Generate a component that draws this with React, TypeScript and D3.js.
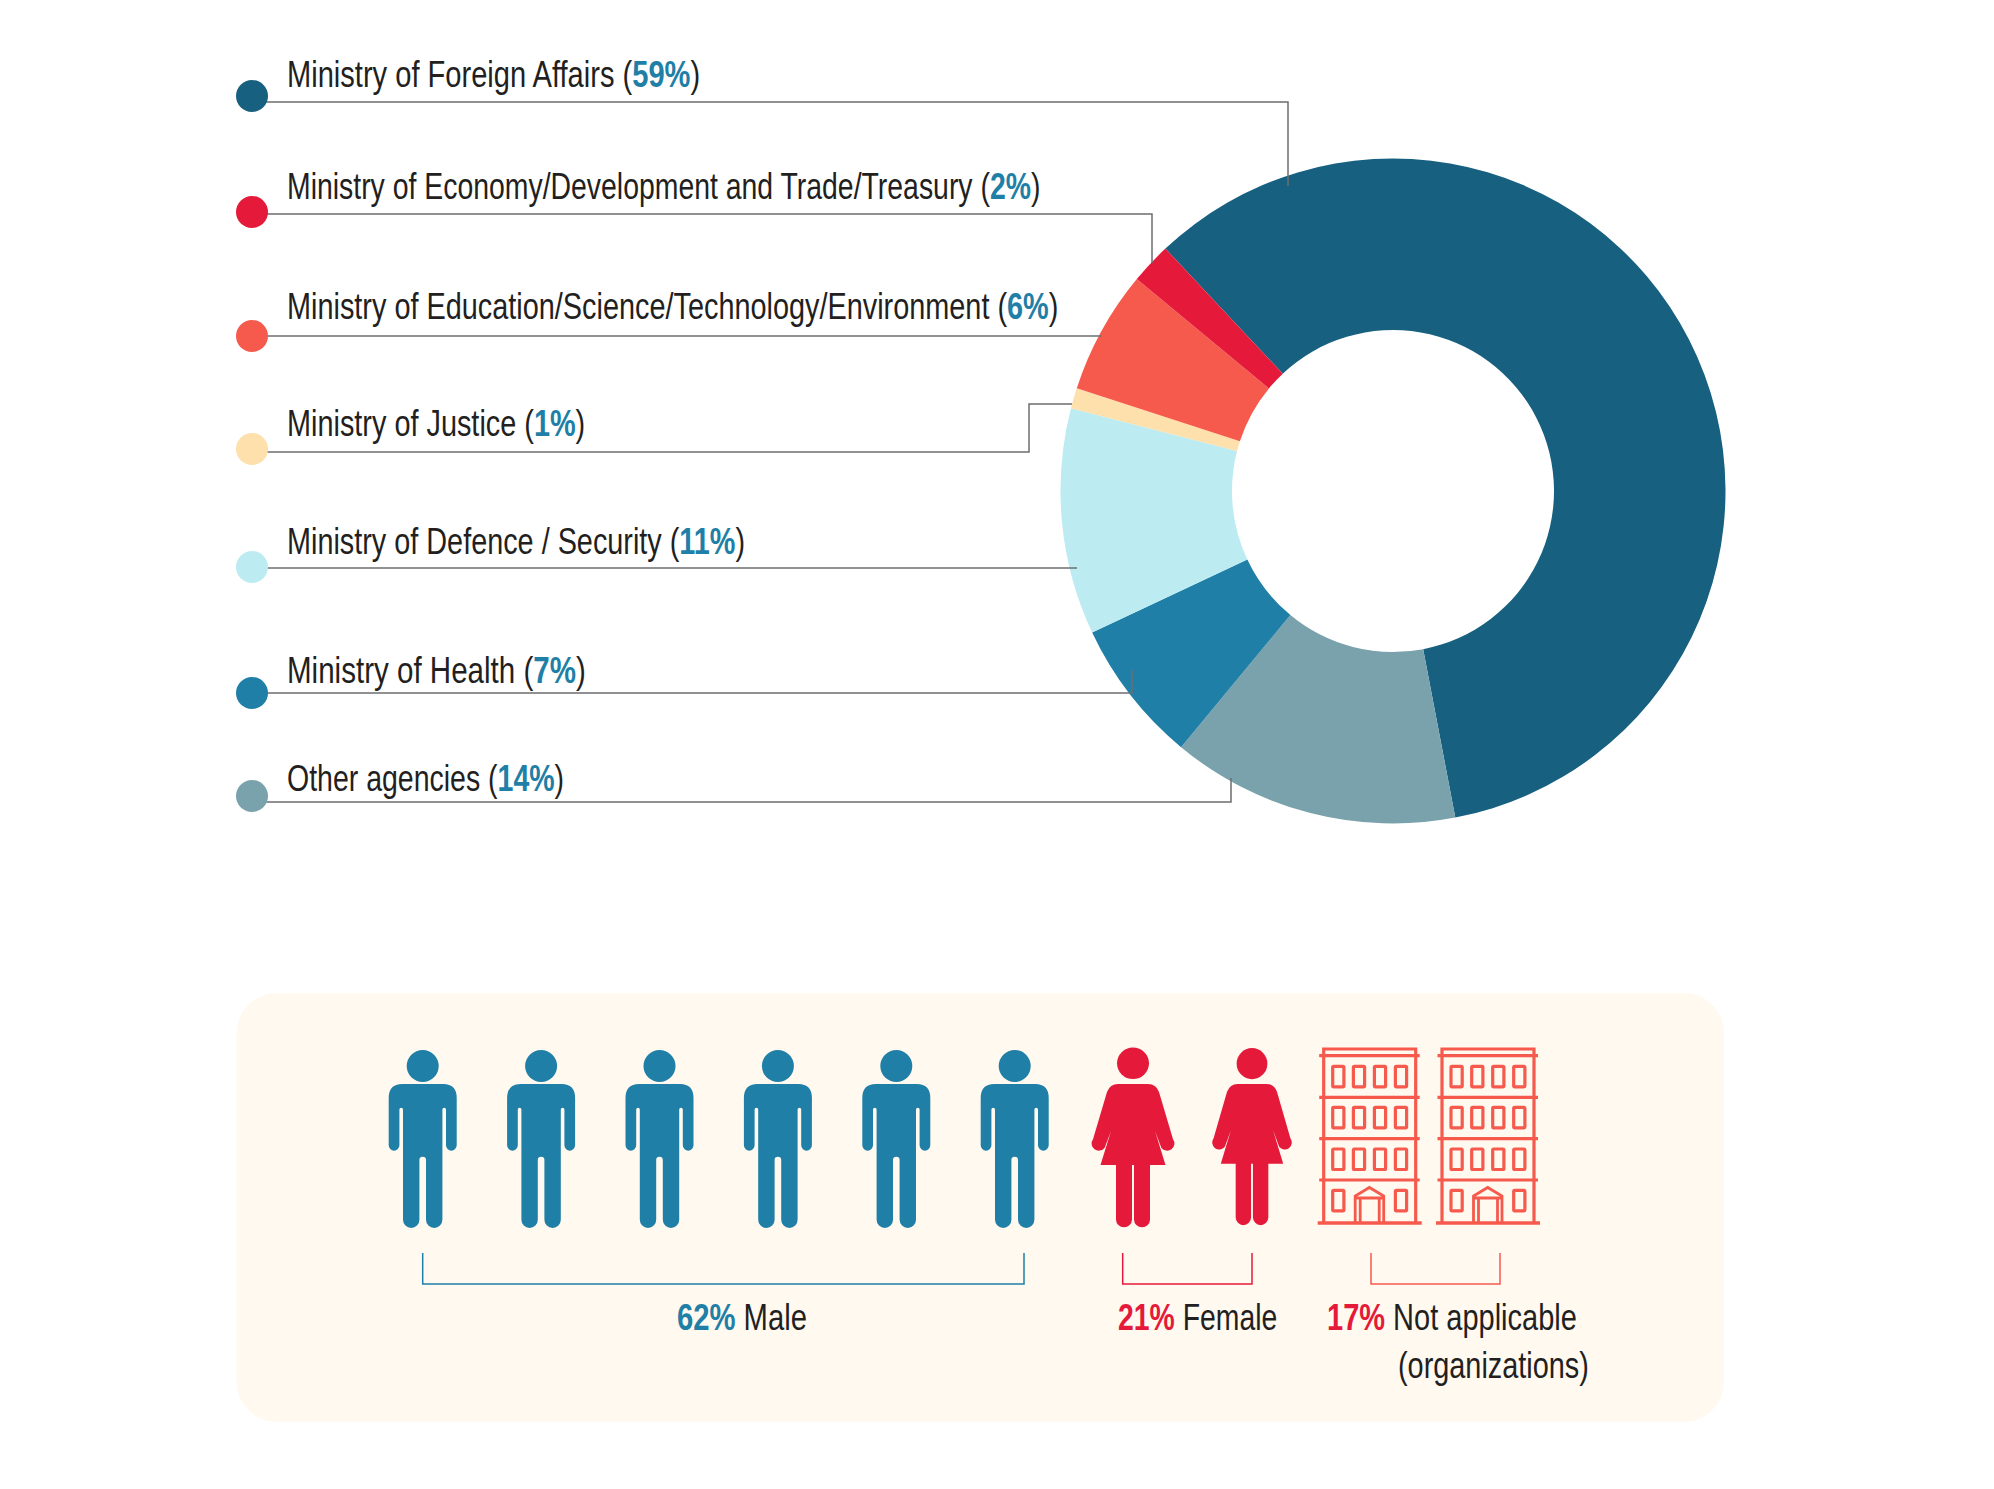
import * as d3 from 'd3';
import React from 'react';

// chart values
const ministries = [
  'Ministry of Foreign Affairs',
  'Ministry of Economy/Development and Trade/Treasury',
  'Ministry of Education/Science/Technology/Environment',
  'Ministry of Justice',
  'Ministry of Defence / Security',
  'Ministry of Health',
  'Other agencies',
];
const shares = [59, 2, 6, 1, 11, 7, 14];
const sliceColors = ['#17607f', '#e51a3a', '#f55a4d', '#fde0ab', '#bcecf2', '#1f7fa6', '#7aa2ac'];
// the ring runs clockwise in this order, starting at Foreign Affairs
const ringOrder = [0, 6, 5, 4, 3, 2, 1];

const genderLabels = ['Male', 'Female', 'Not applicable'];
const genderShares = [62, 21, 17];
const genderIcons = [6, 2, 2];

// layout of the legend rows
const dotY = [96, 212, 336, 449, 567, 693, 796];
const textY = [87, 199, 319, 436, 554, 683, 791];
// no condensed face is installed, so the sans is squeezed sideways
const textSqueeze = [0.786, 0.768, 0.78, 0.78, 0.779, 0.799, 0.77];
const leaders = [
  [[252, 102], [1288, 102], [1288, 186]],
  [[252, 214], [1152, 214], [1152, 263]],
  [[252, 336], [1101, 336]],
  [[252, 452], [1029, 452], [1029, 404], [1072, 404]],
  [[252, 568], [1077, 568]],
  [[252, 693], [1132, 693], [1132, 670]],
  [[252, 802], [1231, 802], [1231, 778]],
];

const FONT = '"Liberation Sans", sans-serif';
const INK = '#231f20';
const BLUE = '#1f7fa6';
const RED = '#e51a3a';
const CORAL = '#f55a4d';

const MAN =
  'M-20.5,0 H20.5 Q34,0 34,14 V61.3 A5.35,5.35 0 0 1 23.3,61.3 V25.5 A1.8,1.8 0 0 0 19.7,25.5 V135.8 A8.2,8.2 0 0 1 3.3,135.8 V76 A3.3,3.3 0 0 0 -3.3,76 V135.8 A8.2,8.2 0 0 1 -19.7,135.8 V25.5 A1.8,1.8 0 0 0 -23.3,25.5 V61.3 A5.35,5.35 0 0 1 -34,61.3 V14 Q-34,0 -20.5,0 Z';
const WOMAN =
  'M-15,0 H15 Q23,0 26,8 L40,56 A6.4,6.4 0 0 1 28.3,64.7 L16.5,33 L17.5,33 L32.5,82.3 H17 V137.5 A8,8 0 0 1 1,137.5 V82.3 H-1 V137.5 A8,8 0 0 1 -17,137.5 V82.3 H-32.5 L-17.5,33 L-16.5,33 L-28.3,64.7 A6.4,6.4 0 0 1 -40,56 L-26,8 Q-23,0 -15,0 Z';

function Man({ x }: { x: number }) {
  return (
    <g transform={`translate(${x},1084)`} fill={BLUE}>
      <circle cx={0} cy={-18} r={16} />
      <path d={MAN} />
    </g>
  );
}

function Woman({ x, k }: { x: number; k: number }) {
  return (
    <g transform={`translate(${x},1084) scale(${k},${k === 1 ? 0.985 : 0.97})`} fill={RED}>
      <circle cx={0} cy={-21} r={16} />
      <path d={WOMAN} />
    </g>
  );
}

function Building({ x }: { x: number }) {
  const winX = [14, 34.7, 55.7, 76.7];
  const winY = [18.3, 59.3, 101];
  const floors = [49.3, 90.7, 132];
  return (
    <g transform={`translate(${x},1048)`} fill="none" stroke={CORAL} strokeWidth={3.2}>
      <path d="M5,175 V7.7 M97,175 V7.7 M5,7.7 V1 H97 V7.7" />
      <path d="M0.5,7.7 H101" />
      {floors.map(f => <path key={f} d={`M0.5,${f} H101`} />)}
      <path d="M-1,175 H103" strokeWidth={3.5} />
      {winY.map(y => winX.map(wx => (
        <rect key={`${y}-${wx}`} x={wx} y={y} width={11.2} height={20.5} rx={1} />
      )))}
      <rect x={winX[0]} y={142.3} width={11.2} height={20.5} rx={1} />
      <rect x={winX[3]} y={142.3} width={11.2} height={20.5} rx={1} />
      <path d="M36.5,175 V148 L50.7,139.5 L65,148 V175 M36.5,150 H65 M41.5,175 V150 M60.5,175 V150" strokeWidth={2.8} />
    </g>
  );
}

export default function App() {
  const pie = d3.pie<number>()
    .sort(null)
    .value(i => shares[i])
    .startAngle((-43.2 * Math.PI) / 180)
    .endAngle(((360 - 43.2) * Math.PI) / 180);
  const arc = d3.arc<d3.PieArcDatum<number>>().innerRadius(161).outerRadius(332.5);
  const slices = pie(ringOrder);
  const line = d3.line();

  const manX = d3.scaleLinear().domain([0, 1]).range([422.7, 541.1]);
  const womanX = d3.scaleLinear().domain([0, 1]).range([1133, 1252]);
  const buildingX = d3.scaleLinear().domain([0, 1]).range([1318.7, 1437]);

  return (
    <svg width={1994} height={1489} style={{ position: 'absolute', left: 0, top: 0, background: '#fff' }} fontFamily={FONT}>
      <g transform="translate(1393,491)">
        {slices.map(s => (
          <path key={s.data} d={arc(s) || ''} fill={sliceColors[s.data]} />
        ))}
      </g>
      {leaders.map((pts, i) => (
        <path key={i} d={line(pts as [number, number][]) || ''} fill="none" stroke="#6d6e71" strokeWidth={1.5} />
      ))}
      {ministries.map((m, i) => (
        <g key={m}>
          <circle cx={252} cy={dotY[i]} r={16} fill={sliceColors[i]} />
          <text transform={`translate(287,${textY[i]}) scale(${textSqueeze[i]},1)`} fontSize={37} fill={INK}>
            {m} (<tspan fontWeight="bold" fill={BLUE}>{shares[i]}%</tspan>)
          </text>
        </g>
      ))}

      <rect x={236.5} y={993} width={1487.5} height={429} rx={40} fill="#fff9f0" />

      {d3.range(genderIcons[0]).map(i => <Man key={i} x={manX(i)} />)}
      {d3.range(genderIcons[1]).map(i => <Woman key={i} x={womanX(i)} k={i === 0 ? 1 : 0.96} />)}
      {d3.range(genderIcons[2]).map(i => <Building key={i} x={buildingX(i)} />)}

      <g fill="none" strokeWidth={1.5}>
        <path d="M422.7,1253 V1284 H1024 V1253" stroke={BLUE} />
        <path d="M1122.7,1253 V1284 H1252 V1253" stroke={RED} />
        <path d="M1371,1253 V1284 H1500 V1253" stroke={CORAL} />
      </g>

      <text transform="translate(677,1330) scale(0.79,1)" fontSize={37} fill={INK}>
        <tspan fontWeight="bold" fill={BLUE}>{genderShares[0]}%</tspan> {genderLabels[0]}
      </text>
      <text transform="translate(1118,1330) scale(0.767,1)" fontSize={37} fill={INK}>
        <tspan fontWeight="bold" fill={RED}>{genderShares[1]}%</tspan> {genderLabels[1]}
      </text>
      <text transform="translate(1327,1330) scale(0.784,1)" fontSize={37} fill={INK}>
        <tspan fontWeight="bold" fill={RED}>{genderShares[2]}%</tspan> {genderLabels[2]}
      </text>
      <text transform="translate(1398,1378) scale(0.78,1)" fontSize={37} fill={INK}>(organizations)</text>
    </svg>
  );
}
